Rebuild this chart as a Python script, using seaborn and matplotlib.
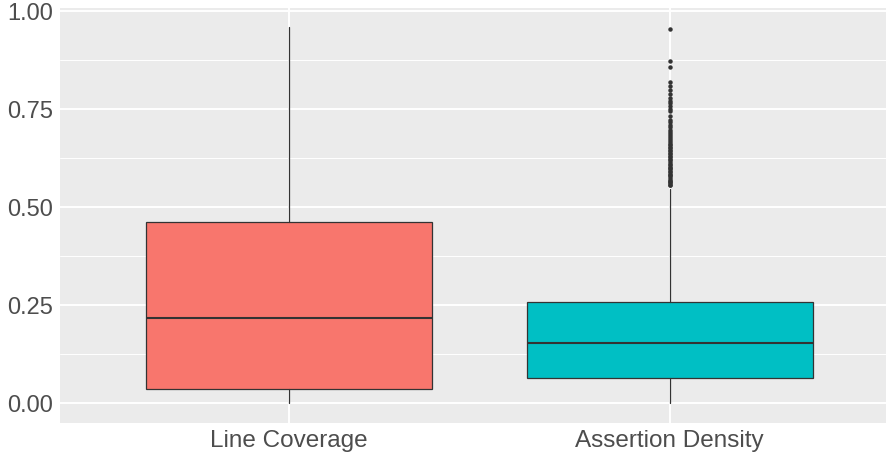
import matplotlib
matplotlib.use("Agg")
import matplotlib.pyplot as plt
import seaborn as sns
from matplotlib.ticker import FixedLocator

# Summary statistics for each metric
categories = ["Line Coverage", "Assertion Density"]
whisker_low = [0.0, 0.0]
q1 = [0.035, 0.063]
median = [0.217, 0.154]
q3 = [0.461, 0.257]
whisker_high = [0.960, 0.545]
outliers_line_coverage = []
outliers_assertion_density = [
    0.953, 0.873, 0.858, 0.820, 0.809, 0.798, 0.788, 0.777, 0.770, 0.765,
    0.758, 0.750, 0.744, 0.733, 0.722, 0.716, 0.709, 0.703, 0.697, 0.692,
    0.686, 0.681, 0.676, 0.670, 0.665, 0.662, 0.658, 0.654, 0.650, 0.646,
    0.642, 0.638, 0.634, 0.630, 0.627, 0.623, 0.619, 0.615, 0.611, 0.607,
    0.603, 0.600, 0.596, 0.592, 0.589, 0.585, 0.581, 0.578, 0.574, 0.570,
    0.567, 0.563, 0.560, 0.557, 0.555,
]
y_ticks = [0.00, 0.25, 0.50, 0.75, 1.00]
y_tick_labels = ["0.00", "0.25", "0.50", "0.75", "1.00"]
fill_colors = ["#F8766D", "#00BFC4"]

sns.set_theme(style="darkgrid", rc={
    "axes.facecolor": "#EBEBEB",
    "figure.facecolor": "white",
    "grid.color": "white",
    "axes.edgecolor": "#EBEBEB",
    "xtick.color": "#333333",
    "ytick.color": "#333333",
    "xtick.labelcolor": "#4D4D4D",
    "ytick.labelcolor": "#4D4D4D",
})
plt.rcParams["font.family"] = ["Liberation Sans", "DejaVu Sans"]

fig = plt.figure(figsize=(8.87, 4.54), dpi=100)
ax = fig.add_axes([60 / 887, 31 / 454, 827 / 887, 415 / 454])

outlier_sets = [outliers_line_coverage, outliers_assertion_density]
stats = [
    dict(label=categories[i], whislo=whisker_low[i], q1=q1[i], med=median[i],
         q3=q3[i], whishi=whisker_high[i], fliers=outlier_sets[i])
    for i in range(len(categories))
]

edge = "#333333"
bp = ax.bxp(
    stats, positions=list(range(len(categories))), widths=0.75,
    patch_artist=True, showcaps=False, zorder=3,
    boxprops=dict(edgecolor=edge, linewidth=0.9),
    whiskerprops=dict(color=edge, linewidth=0.9),
    medianprops=dict(color=edge, linewidth=1.5),
    flierprops=dict(marker="o", markersize=2.2, markerfacecolor=edge,
                    markeredgecolor=edge, linestyle="none"),
)
for patch, color in zip(bp["boxes"], fill_colors):
    patch.set_facecolor(color)

ax.set_xlim(-0.6, 1.570)
ax.set_ylim(-0.051, 1.0077)
ax.set_xticks(range(len(categories)))
ax.set_xticklabels(categories, fontsize=17.5)
ax.yaxis.set_major_locator(FixedLocator(y_ticks))
ax.set_yticklabels(y_tick_labels, fontsize=17)
ax.yaxis.set_minor_locator(FixedLocator([0.125, 0.375, 0.625, 0.875]))

ax.grid(which="major", color="white", linewidth=1.4)
ax.grid(which="minor", axis="y", color="white", linewidth=0.7)
ax.grid(which="minor", axis="x", visible=False)
ax.tick_params(axis="both", which="major", length=3, width=0.8, pad=2, color="#333333")
ax.tick_params(axis="both", which="minor", length=0)
for s in ax.spines.values():
    s.set_visible(False)

fig.savefig("out.png", dpi=100)
